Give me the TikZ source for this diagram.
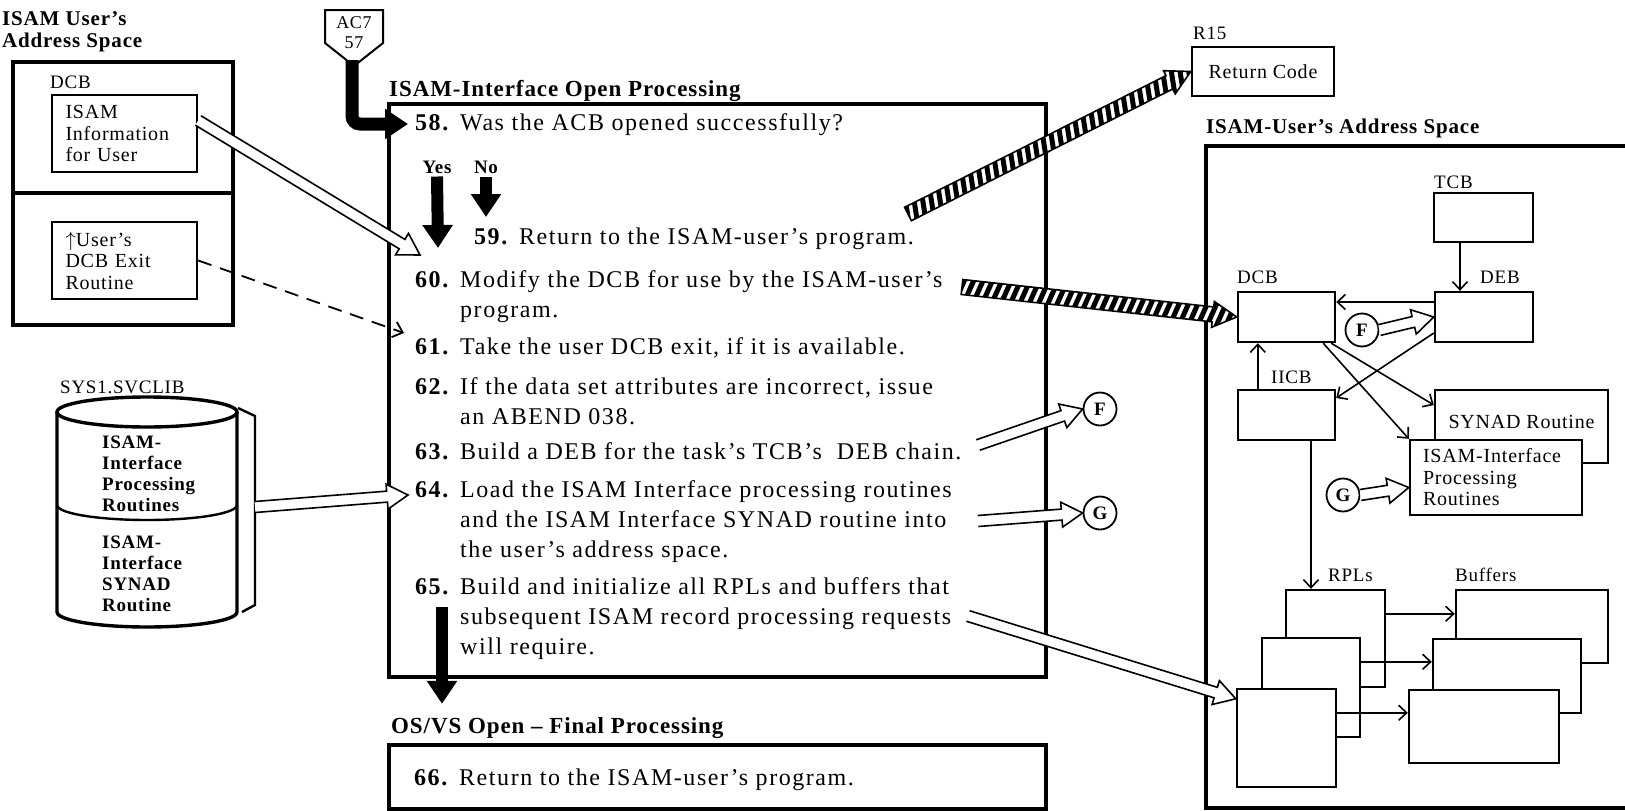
\documentclass[tikz,border=0pt]{standalone}
\usepackage{fontspec}
\setmainfont{Liberation Serif}[LetterSpace=4]
\usetikzlibrary{arrows.meta, calc, positioning}

\newcommand{\stepno}[2]{\makebox[45pt][l]{\bfseries #1}\begin{tabular}[t]{@{}l@{}}#2\end{tabular}}

% wide outlined arrow between two points
\newcommand{\hollowarr}[2]{%
  \path (#1); \pgfgetlastxy{\hax}{\hay}%
  \path (#2); \pgfgetlastxy{\hbx}{\hby}%
  \pgfmathsetmacro{\hang}{atan2((\hby)-(\hay),(\hbx)-(\hax))}%
  \pgfmathsetmacro{\hlen}{veclen((\hbx)-(\hax),(\hby)-(\hay))}%
  \draw[hollow, shift={(\hax,\hay)}, rotate=\hang]
    (0pt,5.5pt) -- (\hlen pt-21pt,5.5pt) -- (\hlen pt-21pt,12.5pt) -- (\hlen pt,0pt)
    -- (\hlen pt-21pt,-12.5pt) -- (\hlen pt-21pt,-5.5pt) -- (0pt,-5.5pt);}

% striped arrow (register passing)
\newcommand{\hatcharr}[2]{%
  \path (#1); \pgfgetlastxy{\hax}{\hay}%
  \path (#2); \pgfgetlastxy{\hbx}{\hby}%
  \pgfmathsetmacro{\hang}{atan2((\hby)-(\hay),(\hbx)-(\hax))}%
  \pgfmathsetmacro{\hlen}{veclen((\hbx)-(\hax),(\hby)-(\hay))}%
  \begin{scope}[shift={(\hax,\hay)}, rotate=\hang]
    \fill[white] (0pt,7.5pt) -- (\hlen pt-24pt,7.5pt) -- (\hlen pt-24pt,13pt) -- (\hlen pt,0pt)
      -- (\hlen pt-24pt,-13pt) -- (\hlen pt-24pt,-7.5pt) -- (0pt,-7.5pt) -- cycle;
    \begin{scope}
      \clip (0pt,7.5pt) -- (\hlen pt-24pt,7.5pt) -- (\hlen pt-24pt,13pt) -- (\hlen pt,0pt)
        -- (\hlen pt-24pt,-13pt) -- (\hlen pt-24pt,-7.5pt) -- (0pt,-7.5pt) -- cycle;
      \foreach \hs in {-14,-5,...,\hlen}
        \draw[line width=5pt] (\hs pt,-14pt) -- (\hs pt+9pt,14pt);
    \end{scope}
    \draw[hollow, fill=none] (0pt,7.5pt) -- (\hlen pt-24pt,7.5pt) -- (\hlen pt-24pt,13pt) -- (\hlen pt,0pt)
      -- (\hlen pt-24pt,-13pt) -- (\hlen pt-24pt,-7.5pt) -- (0pt,-7.5pt) -- cycle;
  \end{scope}}

\begin{document}
\begin{tikzpicture}[x=1pt, y=-1pt,
  stp/.style={anchor=base west, inner sep=0pt, font=\fontsize{24}{30}\selectfont\addfontfeature{LetterSpace=6.5}},
  ttl/.style={inner sep=0pt, font=\fontsize{23}{27}\selectfont\bfseries},
  lbl/.style={inner sep=0pt, font=\fontsize{19}{21}\selectfont},
  lbox/.style={draw, line width=2.4pt, minimum width=145pt, minimum height=77pt,
               text width=118pt, align=left, inner sep=0pt, font=\fontsize{20}{21.5}\selectfont},
  rbox/.style={draw, line width=2.4pt, fill=white, inner sep=0pt, font=\fontsize{20}{21.5}\selectfont},
  circ/.style={circle, draw, line width=1.8pt, fill=white, minimum size=33pt, inner sep=0pt,
               font=\fontsize{19}{20}\selectfont\bfseries},
  heavy/.style={line width=3.4pt},
  blk/.style={line width=12pt, -{Triangle[length=23pt 0 1, width=29pt 0 1]}},
  arr/.style={line width=1.6pt, -{Straight Barb[length=8pt 0 1, width=15pt 0 1]}},
  dsh/.style={line width=1.8pt, dash pattern=on 14pt off 9pt, -{Straight Barb[length=9pt 0 1, width=16pt 0 1]}},
  hollow/.style={draw, fill=white, line width=1.6pt, line join=miter},
  yn/.style={inner sep=0pt, font=\fontsize{19}{21}\selectfont\bfseries}
]
  \useasboundingbox (0,0) rectangle (1625,811);

  % left: user's address space and SVCLIB
  \node[inner sep=0pt, anchor=north west, align=left, font=\fontsize{21}{22}\selectfont\bfseries]
    (uasl) at (2,11) {ISAM User's\\Address Space};
  \draw[heavy] (13,62) rectangle (233,325);
  \draw[heavy] (13,193) -- (233,193);
  \node[lbl, anchor=west] (ldcb) at (50,82) {DCB};
  \node[lbox] (info) at (124.5,133.5) {ISAM\\Information\\for User};
  \node[lbox] (exit) at (124.5,260.5) {$\uparrow$User's\\DCB Exit\\Routine};

  \node[lbl, anchor=west] (svclib) at (60,387) {SYS1.SVCLIB};
  \draw[heavy] (57,412) -- (57,612) arc[start angle=180, end angle=0, x radius=90, y radius=15] -- (237,412);
  \draw[heavy] (147,412) ellipse [x radius=90, y radius=15];
  \draw[line width=2.4pt] (57,505) arc[start angle=180, end angle=0, x radius=90, y radius=15];
  \draw[line width=2.4pt] (238,408) -- (255,416) -- (255,605) -- (242,612);
  \coordinate (brk) at (255,507);
  \node[inner sep=0pt, anchor=west, align=left, font=\fontsize{19}{21}\selectfont\bfseries]
    (proc) at (102,474) {ISAM-\\Interface\\Processing\\Routines};
  \node[inner sep=0pt, anchor=west, align=left, font=\fontsize{19}{21}\selectfont\bfseries]
    (synrt) at (102,574) {ISAM-\\Interface\\SYNAD\\Routine};

  % middle: open processing
  \draw[line width=2pt] (325,10) -- (383,10) -- (383,43) -- (354,66) -- (325,43) -- cycle;
  \node[inner sep=0pt, align=center, font=\fontsize{18}{20}\selectfont] (ac7) at (354,33) {AC7\\57};
  \coordinate (ac7pt) at (352,60);

  \node[ttl, anchor=base west] (open) at (389,96) {ISAM-Interface Open Processing};
  \draw[heavy] (389,104) rectangle (1046,677);

  \node[stp] (s58) at (415,130) {\stepno{58.}{Was the ACB opened successfully?}};
  \node[yn] (yes) at (437,167) {Yes};
  \node[yn] (no)  at (486,167) {No};
  \node[stp] (s59) at (474,244) {\stepno{59.}{Return to the ISAM-user's program.}};
  \node[stp] (s60) at (415,287) {\stepno{60.}{Modify the DCB for use by the ISAM-user's\\program.}};
  \node[stp] (s61) at (415,354) {\stepno{61.}{Take the user DCB exit, if it is available.}};
  \node[stp] (s62) at (415,394) {\stepno{62.}{If the data set attributes are incorrect, issue\\an ABEND 038.}};
  \node[stp] (s63) at (415,459) {\stepno{63.}{Build a DEB for the task's TCB's\ \ DEB chain.}};
  \node[stp] (s64) at (415,497) {\stepno{64.}{Load the ISAM Interface processing routines\\and the ISAM Interface SYNAD routine into\\the user's address space.}};
  \node[stp] (s65) at (415,594) {\stepno{65.}{Build and initialize all RPLs and buffers that\\subsequent ISAM record processing requests\\will require.}};

  \node[ttl, anchor=base west] (osvs) at (391,733) {OS/VS Open -- Final Processing};
  \draw[heavy] (389,745) rectangle (1046,809);
  \node[stp] (s66) at (414,785) {\stepno{66.}{Return to the ISAM-user's program.}};

  \node[circ] (fl) at (1100,409) {F};
  \node[circ] (gl) at (1100,513) {G};

  % right: return code and user's address space
  \node[lbl, anchor=west] (r15) at (1193,33) {R15};
  \node[rbox, minimum width=142pt, minimum height=49pt] (rc) at (1263,71.5) {Return Code};

  \node[inner sep=0pt, anchor=west, font=\fontsize{21}{23}\selectfont\bfseries] (uasr) at (1206,128) {ISAM-User's Address Space};
  \draw[heavy] (1640,146) -| (1206,808) -- (1640,808);

  \node[lbl, anchor=west] (ltcb) at (1434,182) {TCB};
  \node[rbox, minimum width=99pt, minimum height=49pt] (tcb) at (1483.5,217.5) {};
  \node[lbl, anchor=west] (ldcbr) at (1237,277) {DCB};
  \node[rbox, minimum width=97pt, minimum height=50pt] (dcb) at (1286.5,317) {};
  \node[lbl, anchor=west] (ldeb) at (1480,277) {DEB};
  \node[rbox, minimum width=98pt, minimum height=50pt] (deb) at (1484,317) {};
  \node[lbl, anchor=west] (liicb) at (1271,377) {IICB};
  \node[rbox, minimum width=97pt, minimum height=50pt] (iicb) at (1286.5,415) {};
  \node[rbox, minimum width=173pt, minimum height=73pt] (synad) at (1521.5,426.5) {\raisebox{9pt}{SYNAD Routine}};
  \node[rbox, minimum width=172pt, minimum height=75pt, text width=146pt, align=left] (isam) at (1496,477.5)
    {ISAM-Interface\\Processing\\Routines};
  \node[circ] (fr) at (1362,330) {F};
  \node[circ] (gr) at (1343,495) {G};

  \node[lbl, anchor=west] (lrpl) at (1328,575) {RPLs};
  \node[lbl, anchor=west] (lbuf) at (1455,575) {Buffers};
  \node[rbox, minimum width=99pt, minimum height=97pt] (rpla) at (1335.5,638.5) {};
  \node[rbox, minimum width=98pt, minimum height=99pt] (rplb) at (1311,687.5) {};
  \node[rbox, minimum width=99pt, minimum height=98pt] (rplc) at (1286.5,738) {};
  \node[rbox, minimum width=152pt, minimum height=73pt] (bufa) at (1532,626.5) {};
  \node[rbox, minimum width=148pt, minimum height=74pt] (bufb) at (1507,676) {};
  \node[rbox, minimum width=150pt, minimum height=73pt] (bufc) at (1484,726.5) {};

  % control flow
  \draw[blk, line width=13pt, rounded corners=8pt] (ac7pt) |- ([xshift=-7pt]s58.west);
  \coordinate (yestip) at (438,248);
  \coordinate (notip) at (486,217);
  \draw[blk] ([yshift=-3pt]yes.south) -- (yestip);
  \draw[blk] ([yshift=-3pt]no.south) -- (notip);
  \coordinate (d65) at (442,607);
  \draw[blk, shorten >=13pt] (d65) -- (d65 |- osvs.north);

  % data flow
  \coordinate (i60) at (420,255);
  \coordinate (x61) at (404,333);
  \coordinate (l64) at (408,495);
  \hollowarr{[yshift=13pt]info.east}{i60}
  \draw[dsh] (exit.east) -- (x61);
  \hollowarr{brk}{l64}

  \coordinate (h59) at (908,214);
  \coordinate (h60) at (962,287);
  \hatcharr{h59}{rc.west}
  \hatcharr{h60}{dcb.west}
  \coordinate (f63) at (978,445);
  \coordinate (g64) at (978,521);
  \coordinate (r65) at (968,616);
  \hollowarr{f63}{fl.west}
  \hollowarr{g64}{gl.west}
  \hollowarr{r65}{[yshift=-11pt]rplc.north west}

  \draw[arr] ([xshift=-23.5pt]tcb.south) -- ([xshift=-24pt]deb.north);
  \draw[arr] ([yshift=15pt]deb.west) -- ([yshift=15pt]dcb.east);
  \draw[arr] ([xshift=21pt]iicb.north west) -- ([xshift=21pt]dcb.south west);
  \draw[arr] ([yshift=-16pt]deb.west) -- ([yshift=17pt]iicb.east);
  \draw[arr] ([xshift=-5pt]dcb.south east) -- ([yshift=21.5pt]synad.west);
  \draw[arr] ([xshift=-13pt]dcb.south east) -- (isam.north west);
  \hollowarr{fr.east}{deb.west}
  \hollowarr{gr.east}{[yshift=-10pt]isam.west}

  \coordinate (ib) at ([xshift=24.5pt]iicb.south);
  \draw[arr] (ib) -- (ib |- rpla.north);
  \foreach \r/\b in {rpla/bufa, rplb/bufb, rplc/bufc} {
    \coordinate (o\r) at ([yshift=-25pt]\r.north east);
    \draw[arr] (o\r) -- (o\r -| \b.west);
  }
\end{tikzpicture}
\end{document}
